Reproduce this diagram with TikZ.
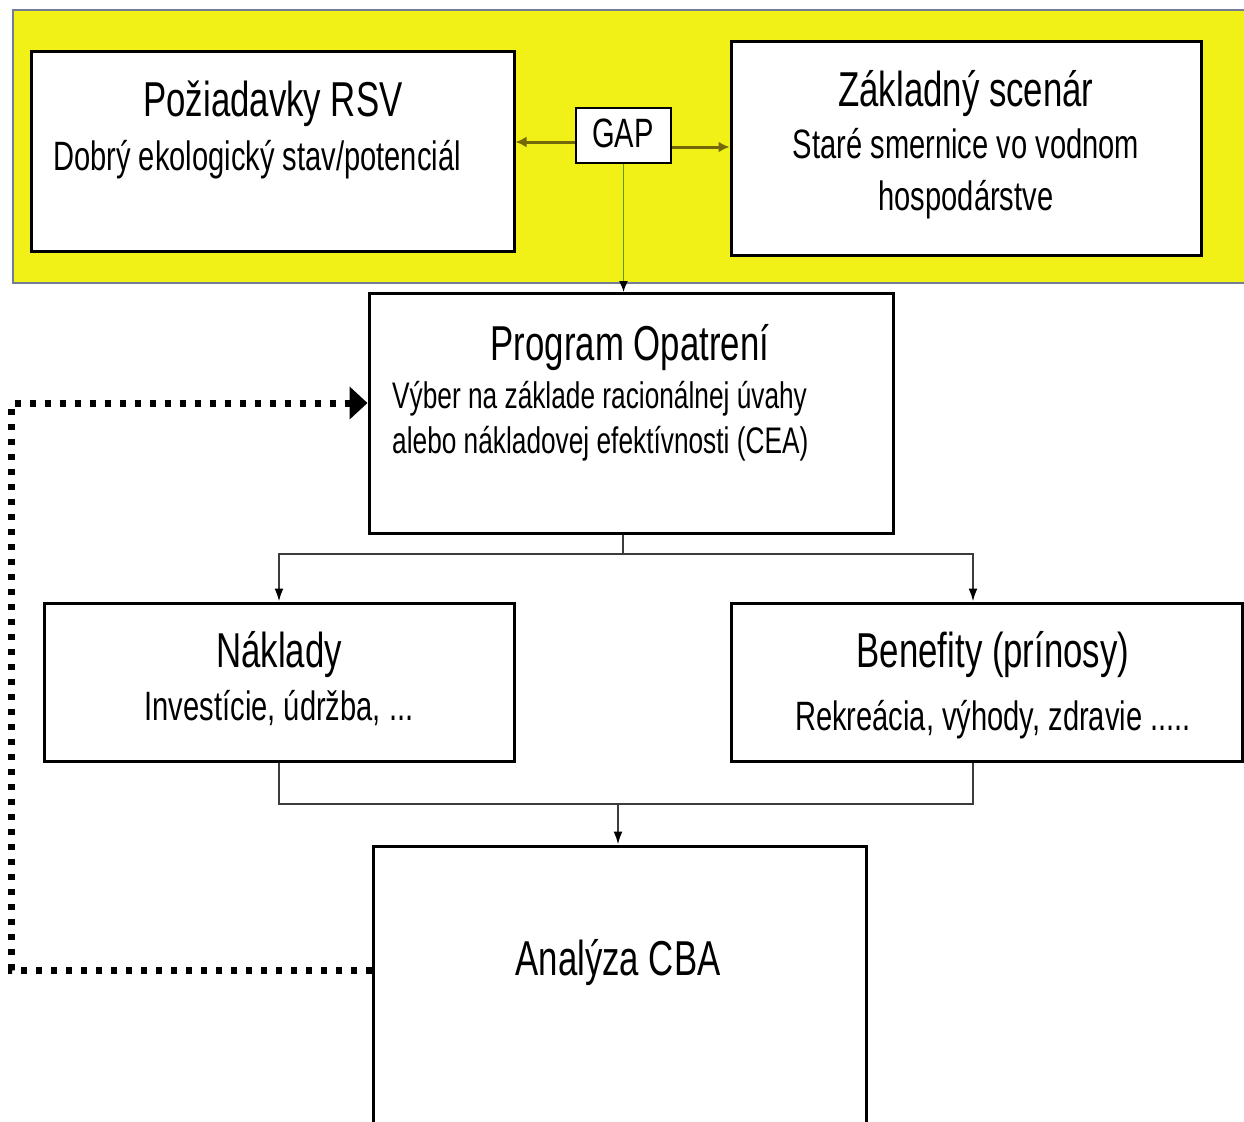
\documentclass[tikz,border=0pt]{standalone}
\usepackage{fontspec}
\setmainfont[FakeStretch=0.71]{Liberation Sans}
\usetikzlibrary{arrows.meta}
\definecolor{band}{RGB}{241,241,24}
\definecolor{bandline}{RGB}{115,125,150}
\definecolor{olivec}{RGB}{115,105,10}
\definecolor{greenc}{RGB}{95,155,25}
\definecolor{connc}{RGB}{60,60,60}
\tikzset{
  box/.style={draw=black, line width=3pt, fill=white, inner sep=0pt},
  ttl/.style={font=\fontsize{49}{55}\selectfont, anchor=base, inner sep=0pt},
  sub/.style={font=\fontsize{41}{47}\selectfont, anchor=base, inner sep=0pt},
  subs/.style={font=\fontsize{37}{43}\selectfont, anchor=base west, inner sep=0pt},
  olv/.style={draw=olivec, line width=3pt, -{Latex[length=11pt,width=11pt]}},
  conn/.style={draw=connc, line width=2pt},
  carr/.style={conn, -{Latex[length=13pt,width=9pt,color=black]}},
  dotline/.style={draw=black, line width=7pt, dash pattern=on 6pt off 9pt, -{Triangle[length=18pt,width=32pt]}}
}
\begin{document}
\begin{tikzpicture}[x=1pt, y=-1pt]
\useasboundingbox (0,0) rectangle (1244,1121);
\fill[white] (0,0) rectangle (1244,1121);
% yellow band
\node[draw=bandline, line width=1.5pt, fill=band, inner sep=0pt, minimum width=1240pt, minimum height=273pt] (bandbox) at (633,146.5) {};
% boxes
\node[box, minimum width=483pt, minimum height=199pt] (req) at (272.5,151.5) {};
\node[box, minimum width=470pt, minimum height=213pt] (base) at (966,148.5) {};
\node[draw=black, line width=1.5pt, fill=white, inner sep=0pt, minimum width=95pt, minimum height=55pt] (gap) at (623.5,135.5) {};
\node[box, minimum width=524pt, minimum height=240pt] (prog) at (631,413.5) {};
\node[box, minimum width=470pt, minimum height=158pt] (nak) at (279,682) {};
\node[box, minimum width=511pt, minimum height=158pt] (ben) at (986.5,682) {};
\node[box, minimum width=493pt, minimum height=290pt] (ana) at (619.5,991) {};
% texts
\node[ttl] (t1) at (273,117) {Požiadavky RSV};
\node[sub] (s1) at (257,170) {Dobrý ekologický stav/potenciál};
\node[ttl] (t2) at (966,107) {Základný scenár};
\node[sub] (s2a) at (966,158) {Staré smernice vo vodnom};
\node[sub] (s2b) at (966,210) {hospodárstve};
\node[sub] (tg) at (623,147) {GAP};
\node[ttl] (t3) at (630,360) {Program Opatrení};
\node[subs] (s3a) at (392,408) {Výber na základe racionálnej úvahy};
\node[subs] (s3b) at (392,453) {alebo nákladovej efektívnosti (CEA)};
\node[ttl] (t4) at (279,667) {Náklady};
\node[sub] (s4) at (279,720) {Investície, údržba, ...};
\node[ttl] (t5) at (993,667) {Benefity (prínosy)};
\node[sub] (s5) at (993,730) {Rekreácia, výhody, zdravie .....};
\node[ttl] (t6) at (618,975) {Analýza CBA};
% GAP connectors
\draw[olv] ([yshift=-6.5pt]gap.west) -- ([yshift=-6.5pt]gap.west -| req.east);
\draw[olv] ([yshift=-11.5pt]gap.east) -- ([yshift=-11.5pt]gap.east -| base.west);
\draw[draw=greenc, line width=1.5pt, -{Latex[length=11pt,width=9pt,color=black]}] (gap.south) -- (gap.south |- prog.north);
% tree connectors
\coordinate (jt) at (623,554);
\coordinate (jb) at (618,804);
\coordinate (bx) at (973,0);
\draw[conn] (prog.south -| jt) -- (jt);
\draw[carr] (jt) -| (nak.north);
\draw[carr] (jt) -| (bx |- ben.north);
\draw[conn] (nak.south) |- (jb);
\draw[conn] (bx |- ben.south) |- (jb);
\draw[carr] (jb) -- (jb |- ana.north);
% dotted feedback
\draw[dotline] ([yshift=21pt]ana.west) -- ++(-360,0) |- ([yshift=10.5pt]prog.west);
\end{tikzpicture}
\end{document}
